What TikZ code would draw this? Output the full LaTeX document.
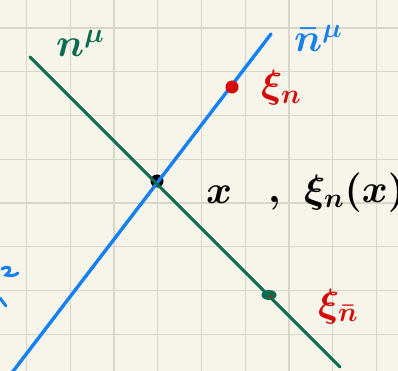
\documentclass[tikz,border=0pt]{standalone}
\usepackage{amsmath}
\usetikzlibrary{calc,shapes.geometric}
\definecolor{paper}{HTML}{F7F5EA}
\definecolor{gridc}{HTML}{D9D5C8}
\definecolor{lgreen}{HTML}{0B6B4E}
\definecolor{lblue}{HTML}{1580F0}
\definecolor{lred}{HTML}{D40A0A}
\newcommand{\hwbig}[1]{\scalebox{1.9}{#1}}
\tikzset{
  lbl/.style={inner sep=0pt, anchor=base west, font=\huge\boldmath},
  dot/.style={circle, inner sep=0pt, minimum size=#1},
}
\begin{document}
\begin{tikzpicture}[x=1pt,y=-1pt]
\fill[paper] (0,0) rectangle (398,371);
\useasboundingbox (0,0) rectangle (398,371);
\clip (0,0) rectangle (398,371);
% grid
\foreach \i in {0,...,8} {
  \draw[gridc, line width=1.2pt] ({26.5+43.75*\i},0) -- ({26.5+43.75*\i},371);
  \draw[gridc, line width=1.2pt] (0,{28+43.75*\i}) -- (398,{28+43.75*\i});
}
% black dot
\node[dot=13pt, fill=black] (x) at (157,181) {};
% line endpoints
\coordinate (gA) at (30,57);
\coordinate (gB) at (340,367);
\coordinate (bA) at (271,34);
\coordinate (bB) at (11,374);
\draw[lblue, line width=3.4pt, line cap=round] (bA) -- (bB);
\draw[lgreen, line width=3pt, line cap=round] (gA) -- (gB);
% dots
\node[dot=13pt, fill=lred] (xin) at (232,87) {};
\node[ellipse, inner sep=0pt, minimum width=15pt, minimum height=10pt, fill=lgreen] (xinb) at (269,295) {};
\fill[lred] (271.5,296.5) circle (1.4pt);
% labels
\node[lbl, text=lgreen] (nmu) at (56,57) {\hwbig{$n^{\mu}$}};
\node[lbl, text=lblue] (nbmu) at (294,52) {\hwbig{$\bar n^{\mu}$}};
\node[lbl, text=lred] (lxin) at (261,98) {\hwbig{$\xi_{n}$}};
\node[lbl, text=black] (lx) at (206,204) {\hwbig{$x$}};
\node[lbl, text=black] (lcomma) at (268,202) {\hwbig{$,$}};
\node[lbl, text=black] (lxix) at (304,202) {\hwbig{$\xi_{n}(x)$}};
\node[lbl, text=lred] (lxinb) at (318,316) {\hwbig{$\xi_{\bar n}$}};
% partial blue marks at left edge
\draw[lblue, line width=3pt, line cap=round] (2,269) .. controls (8,265) and (14,268) .. (6,275) .. controls (10,276) and (15,276) .. (18,273);
\draw[lblue, line width=3pt, line cap=round] (0,298) -- (6,306);
\end{tikzpicture}
\end{document}
